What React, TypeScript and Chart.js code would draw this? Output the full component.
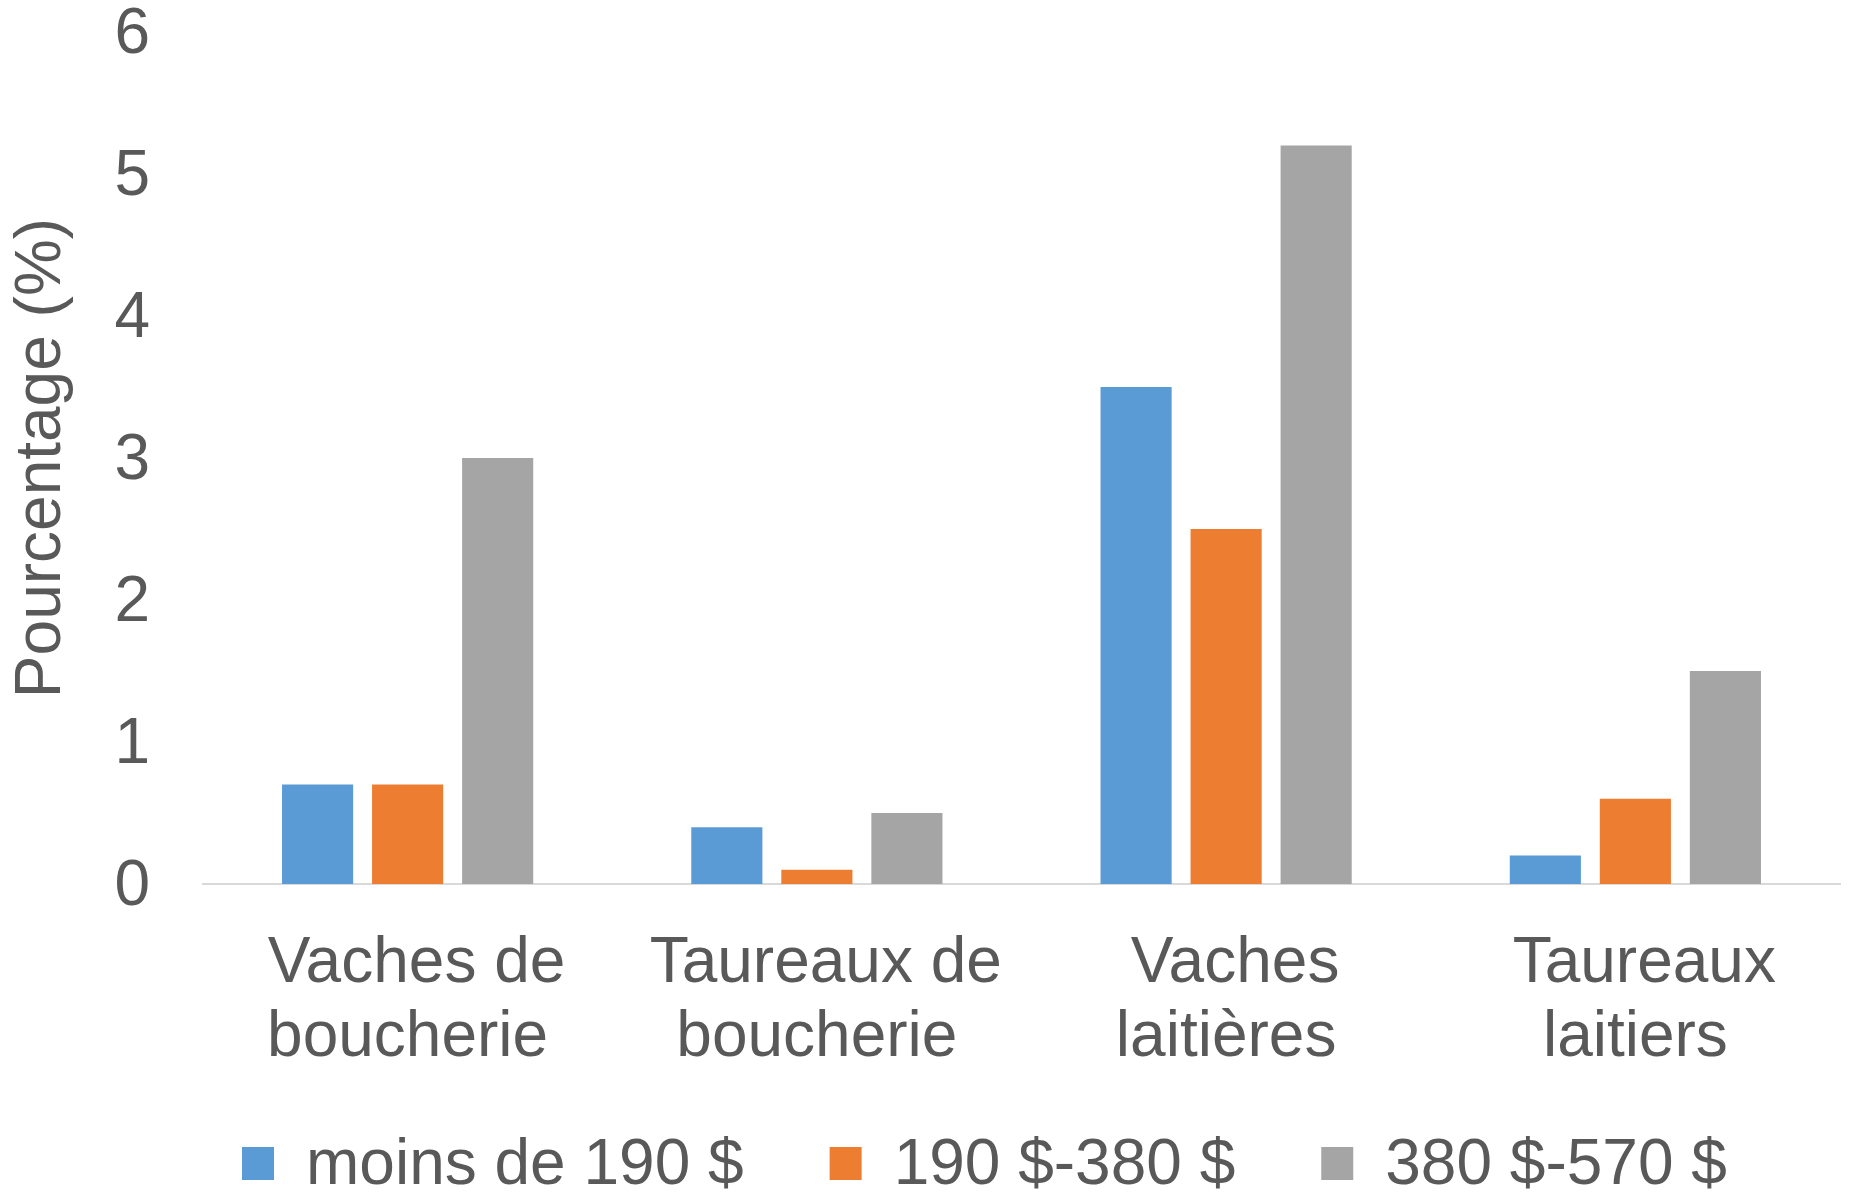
import React, { useEffect, useRef } from "react";
import { Chart, registerables } from "chart.js";

Chart.register(...registerables);

// ---- Data ----
const categories: string[][] = [
  [" Vaches de", "boucherie"],
  [" Taureaux de", "boucherie"],
  [" Vaches", "laitières"],
  [" Taureaux", "laitiers"],
];
const seriesLabels = ["moins de 190 $", "190 $-380 $", "380 $-570 $"];
const seriesColors = ["#5B9BD5", "#ED7D31", "#A5A5A5"];
const moinsDe190 = [0.7, 0.4, 3.5, 0.2];
const de190a380 = [0.7, 0.1, 2.5, 0.6];
const de380a570 = [3.0, 0.5, 5.2, 1.5];
const yTicks = [0, 1, 2, 3, 4, 5, 6];
const yTitle = "Pourcentage (%)";

const FONT = '"Liberation Sans", Arial, sans-serif';
const FS = 64;
const TEXT = "#595959";
const W = 1849;
const H = 1192;

const legendPlugin = {
  id: "customLegend",
  afterDraw(chart: any) {
    const ctx = chart.ctx as CanvasRenderingContext2D;
    ctx.save();
    ctx.font = `${FS}px ${FONT}`;
    ctx.textAlign = "left";
    ctx.textBaseline = "alphabetic";
    let x = 242;
    chart.data.datasets.forEach((ds: any) => {
      ctx.fillStyle = ds.backgroundColor;
      ctx.fillRect(x, 1147, 32, 33);
      ctx.fillStyle = TEXT;
      const tx = x + 32 + FS / 2;
      ctx.fillText(ds.label, tx, 1184);
      x = tx + ctx.measureText(ds.label).width + 86;
    });
    ctx.restore();
  },
};

export default function App() {
  const ref = useRef<HTMLCanvasElement | null>(null);
  useEffect(() => {
    if (!ref.current) return;
    const seriesValues = [moinsDe190, de190a380, de380a570];
    const chart = new Chart(ref.current, {
      type: "bar",
      data: {
        labels: categories,
        datasets: seriesValues.map((vals, i) => ({
          label: seriesLabels[i],
          data: vals,
          backgroundColor: seriesColors[i],
          borderWidth: 0,
          categoryPercentage: 0.66,
          barPercentage: 0.79,
        })),
      },
      options: {
        animation: false,
        responsive: false,
        devicePixelRatio: 1,
        layout: { padding: { left: 0, right: 9, top: 32, bottom: 0 } },
        font: { family: FONT },
        plugins: {
          legend: { display: false },
          tooltip: { enabled: false },
          title: { display: false },
        },
        scales: {
          x: {
            grid: { display: false, drawTicks: false },
            border: { display: true, color: "#D9D9D9", width: 2 },
            ticks: {
              color: TEXT,
              font: { family: FONT, size: FS, lineHeight: 1.15 },
              padding: 44,
              autoSkip: false,
              maxRotation: 0,
              minRotation: 0,
            },
            afterFit: (s: any) => {
              s.height = H - 884;
              s.paddingLeft = 0;
              s.paddingRight = 0;
            },
          },
          y: {
            min: 0,
            max: 6,
            grid: { display: false, drawTicks: false },
            border: { display: false },
            afterBuildTicks: (s: any) => {
              s.ticks = yTicks.map((v) => ({ value: v }));
            },
            ticks: {
              color: TEXT,
              font: { family: FONT, size: FS, lineHeight: 1 },
              padding: 53,
              labelOffset: 3.5,
            },
            title: {
              display: true,
              text: yTitle,
              color: TEXT,
              font: { family: FONT, size: FS, lineHeight: 1 },
              padding: { top: 10.5, bottom: 0 },
            },
            afterFit: (s: any) => {
              s.width = 203;
              s.paddingTop = 0;
              s.paddingBottom = 0;
            },
          },
        },
      } as any,
      plugins: [legendPlugin],
    });
    return () => chart.destroy();
  }, []);

  return (
    <div style={{ position: "fixed", left: 0, top: 0, width: W, height: H, background: "#fff" }}>
      <canvas ref={ref} width={W} height={H} style={{ display: "block" }} />
    </div>
  );
}
